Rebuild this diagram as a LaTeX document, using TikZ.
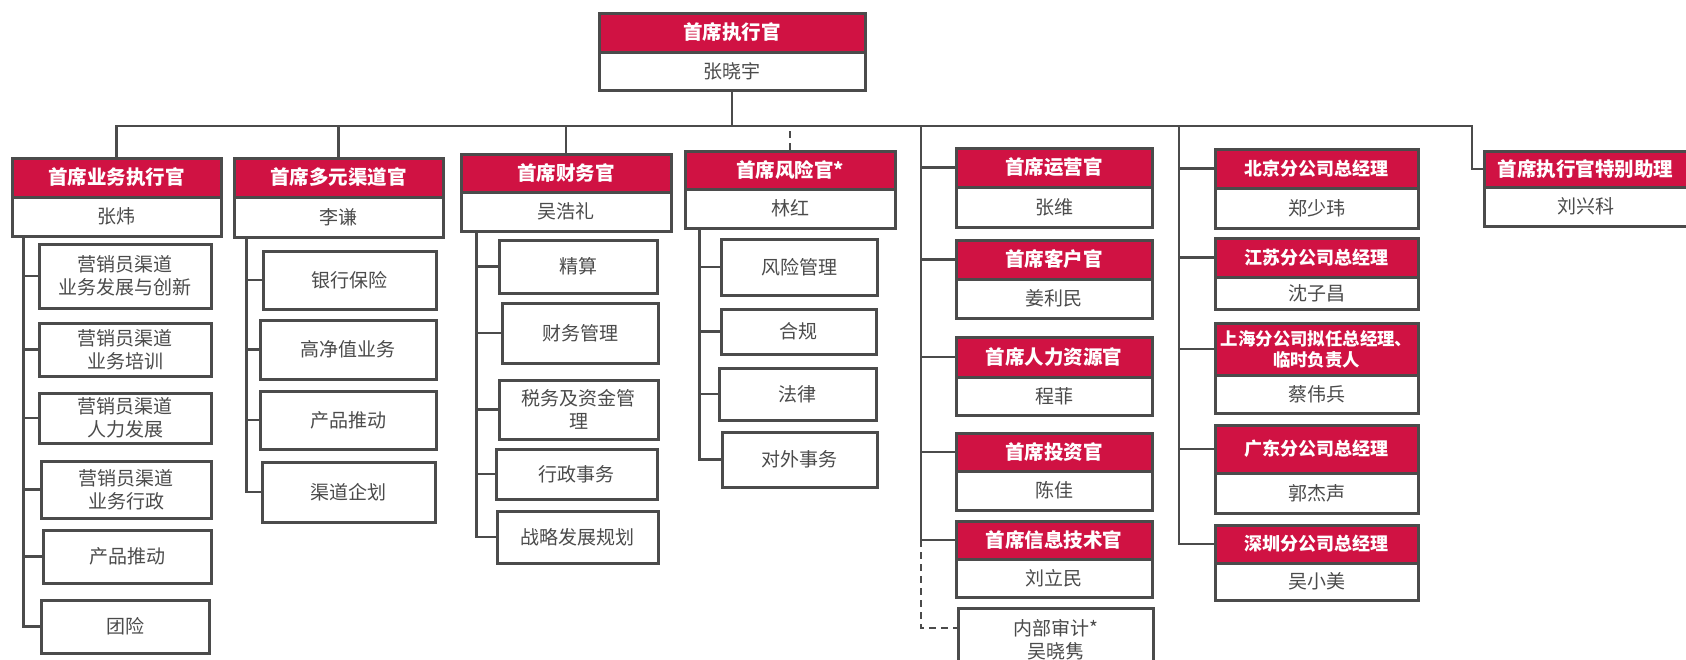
\documentclass[tikz,border=0pt]{standalone}
\usepackage{fontspec}
\newfontfamily\cjk{Noto Sans CJK SC}
\definecolor{hred}{RGB}{208,18,67}
\definecolor{lgray}{RGB}{75,75,75}
\definecolor{tgray}{RGB}{75,75,75}
\tikzset{
  base/.style={draw=lgray, line width=3pt, inner sep=0pt, align=center},
  hdr/.style={base, fill=hred, text=white, font=\cjk\bfseries\fontsize{19.5}{21}\selectfont},
  hsmall/.style={font=\cjk\bfseries\fontsize{18}{21}\selectfont},
  htiny/.style={font=\cjk\bfseries\fontsize{17.4}{21}\selectfont},
  nm/.style={base, fill=white, text=tgray, font=\cjk\fontsize{19}{23}\selectfont},
  subbox/.style={base, fill=white, text=tgray, font=\cjk\fontsize{19}{23}\selectfont},
  link/.style={draw=lgray, line width=2.9pt},
  dlink/.style={link, dash pattern=on 7pt off 5pt},
}
\newcommand\exbox[9][]{%
  \node[hdr,#1,minimum width={#4-#3},minimum height={#6-#5}] (h#2) at ({(#3+#4)/2},{(#5+#6)/2}) {#8};
  \node[nm,minimum width={#4-#3},minimum height={#7-#6}] (n#2) at ({(#3+#4)/2},{(#6+#7)/2}) {#9};}
\newcommand\mysub[6]{%
  \node[subbox,minimum width={#3-#2},minimum height={#5-#4}] (#1) at ({(#2+#3)/2},{(#4+#5)/2}) {#6};}
\begin{document}
\begin{tikzpicture}[x=1pt,y=-1pt]
\path[use as bounding box] (0,0) rectangle (1686,659);
\clip (0,0) rectangle (1686,659);

% executives
\exbox{0}{599}{865}{13}{52}{90}{首席执行官}{张晓宇}
\exbox{1}{12}{221}{158}{197}{236}{首席业务执行官}{张炜}
\exbox{2}{234}{443}{158}{197}{237}{首席多元渠道官}{李谦}
\exbox{3}{461}{671}{154}{192}{231}{首席财务官}{吴浩礼}
\exbox{4}{685}{895}{151}{189}{228}{首席风险官*}{林红}
\exbox{51}{956}{1152}{148}{187}{227}{首席运营官}{张维}
\exbox{52}{956}{1152}{240}{279}{318}{首席客户官}{姜利民}
\exbox{53}{956}{1152}{337}{377}{415}{首席人力资源官}{程菲}
\exbox{54}{956}{1152}{433}{471}{510}{首席投资官}{陈佳}
\exbox{55}{956}{1152}{521}{559}{597}{首席信息技术官}{刘立民}
\exbox[hsmall]{61}{1215}{1418}{149}{188}{228}{北京分公司总经理}{郑少玮}
\exbox[hsmall]{62}{1215}{1418}{238}{277}{309}{江苏分公司总经理}{沈子昌}
\exbox[htiny]{63}{1215}{1418}{323}{375}{413}{上海分公司拟任总经理、\\临时负责人}{蔡伟兵}
\exbox[hsmall]{64}{1215}{1418}{425}{473}{513}{广东分公司总经理}{郭杰声}
\exbox[hsmall]{65}{1215}{1418}{525}{563}{600}{深圳分公司总经理}{吴小美}
\exbox{7}{1484}{1687}{151}{187}{226}{首席执行官特别助理}{刘兴科}

% departments
\mysub{s11}{39}{211}{244}{308}{营销员渠道\\业务发展与创新}
\mysub{s12}{39}{211}{323}{376}{营销员渠道\\业务培训}
\mysub{s13}{39}{211}{393}{443}{营销员渠道\\人力发展}
\mysub{s14}{41}{211}{461}{518}{营销员渠道\\业务行政}
\mysub{s15}{43}{211}{530}{583}{产品推动}
\mysub{s16}{41}{209}{600}{653}{团险}

\mysub{s21}{263}{436}{251}{309}{银行保险}
\mysub{s22}{260}{436}{320}{379}{高净值业务}
\mysub{s23}{260}{436}{391}{449}{产品推动}
\mysub{s24}{262}{435}{462}{522}{渠道企划}

\mysub{s31}{499}{657}{240}{293}{精算}
\mysub{s32}{502}{658}{303}{363}{财务管理}
\mysub{s33}{499}{658}{380}{439}{税务及资金管\\理}
\mysub{s34}{496}{657}{449}{499}{行政事务}
\mysub{s35}{497}{658}{511}{563}{战略发展规划}

\mysub{s41}{721}{877}{239}{295}{风险管理}
\mysub{s42}{721}{876}{309}{354}{合规}
\mysub{s43}{719}{876}{368}{420}{法律}
\mysub{s44}{722}{877}{432}{487}{对外事务}

\mysub{audit}{958}{1153}{608}{672}{内部审计*\\吴晓隽}

% top bus
\coordinate (bus) at (732,126);
\coordinate (c7) at (1472,126);
\coordinate (t5) at (921,126);
\coordinate (t6) at (1179,126);
\draw[link] (n0.south) -- (bus);
\draw[link] (h1.north) |- (c7) |- (h7.west);
\draw[link] (h2.north) -- (h2.north |- bus);
\draw[link] (h3.north) -- (h3.north |- bus);
\draw[dlink] (h4.north) -- (h4.north |- bus);

% column 5
\draw[link] (t5) |- (h55.west);
\foreach \k in {51,52,53,54} \draw[link] (t5 |- h\k.west) -- (h\k.west);
\draw[dlink] (t5 |- h55.west) |- ([yshift=12pt]audit.west);

% column 6
\draw[link] (t6) |- (h65.west);
\foreach \k in {61,62,63,64} \draw[link] (t6 |- h\k.west) -- (h\k.west);

% department trunks
\draw[link] (n1.south west) ++(13,0) coordinate (t1) |- (s16.west);
\foreach \k in {s11,s12,s13,s14,s15} \draw[link] (t1 |- \k.west) -- (\k.west);
\draw[link] (n2.south west) ++(14,0) coordinate (t2) |- (s24.west);
\foreach \k in {s21,s22,s23} \draw[link] (t2 |- \k.west) -- (\k.west);
\draw[link] (n3.south west) ++(17,0) coordinate (t3) |- (s35.west);
\foreach \k in {s31,s32,s33,s34} \draw[link] (t3 |- \k.west) -- (\k.west);
\draw[link] (n4.south west) ++(16,0) coordinate (t4) |- (s44.west);
\foreach \k in {s41,s42,s43} \draw[link] (t4 |- \k.west) -- (\k.west);
\end{tikzpicture}
\end{document}
